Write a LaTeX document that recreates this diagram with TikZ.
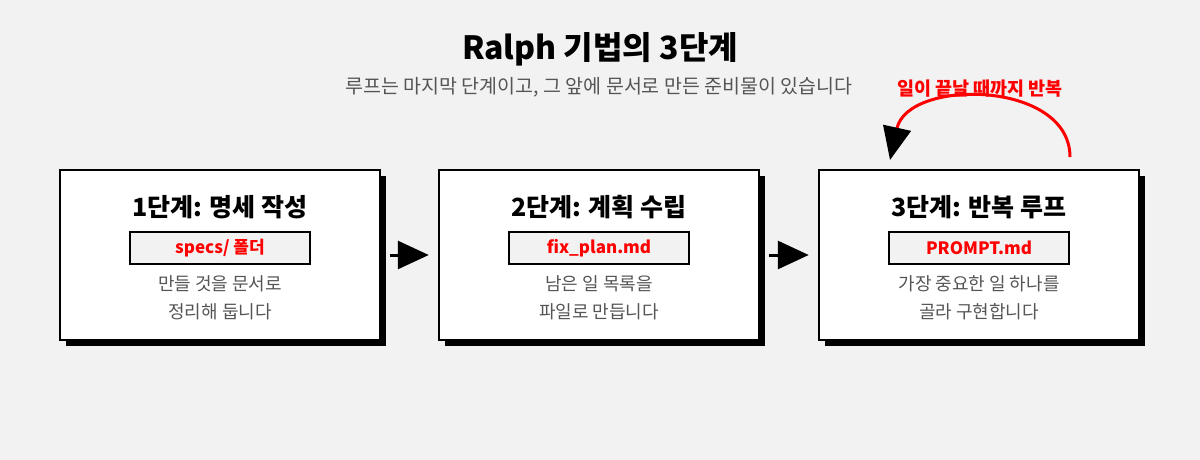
\documentclass[tikz,border=0pt]{standalone}
\usepackage{fontspec}
\setmainfont{Noto Sans CJK KR}
\usetikzlibrary{arrows.meta}
\definecolor{bg}{HTML}{F2F2F2}
\definecolor{txtgray}{HTML}{555555}
\definecolor{myred}{HTML}{FF0000}
\tikzset{
  stage/.style={draw=black, line width=2.5pt, fill=white, minimum width=320pt, minimum height=170pt, inner sep=0pt},
  shadowbox/.style={fill=black, minimum width=320pt, minimum height=170pt, inner sep=0pt, draw=none},
  steptitle/.style={font=\bfseries\fontsize{25}{28}\selectfont, text=black},
  filebox/.style={draw=black, line width=2pt, fill=bg, minimum width=180pt, minimum height=32pt, inner sep=0pt, font=\bfseries\fontsize{17}{20}\selectfont, text=myred},
  desc/.style={font=\fontsize{18}{28}\selectfont, text=txtgray, align=center},
  flow/.style={line width=3pt, -{Triangle[length=31pt,width=28pt]}},
}
\begin{document}
\begin{tikzpicture}[x=1pt,y=-1pt]
\fill[bg] (0,0) rectangle (1200,460);
\useasboundingbox (0,0) rectangle (1200,460);
\node[font=\bfseries\fontsize{32}{36}\selectfont] (title) at (600,49) {Ralph 기법의 3단계};
\node[font=\fontsize{19.5}{22}\selectfont, text=txtgray] (subtitle) at (599,87) {루프는 마지막 단계이고, 그 앞에 문서로 만든 준비물이 있습니다};
% stage 1
\node[shadowbox] (s1) at (226,261) {};
\node[stage] (b1) at (220,255) {};
\node[steptitle] (t1) at (220,207) {1단계: 명세 작성};
\node[filebox] (f1) at (220,248) {specs/ 폴더};
\node[desc] (d1) at (220,298) {만들 것을 문서로\\정리해 둡니다};
% stage 2
\node[shadowbox] (s2) at (605,261) {};
\node[stage] (b2) at (599,255) {};
\node[steptitle] (t2) at (599,207) {2단계: 계획 수립};
\node[filebox] (f2) at (599,248) {fix\_plan.md};
\node[desc] (d2) at (599,298) {남은 일 목록을\\파일로 만듭니다};
% stage 3
\node[shadowbox] (s3) at (985,261) {};
\node[stage] (b3) at (979,255) {};
\node[steptitle] (t3) at (979,207) {3단계: 반복 루프};
\node[filebox] (f3) at (979,248) {PROMPT.md};
\node[desc] (d3) at (979,298) {가장 중요한 일 하나를\\골라 구현합니다};
% arrows
\draw[flow, shorten <=4pt, shorten >=9pt] (s1.east |- b1.east) -- (b2.west);
\draw[flow, shorten <=4pt, shorten >=9pt] (s2.east |- b2.east) -- (b3.west);
% loop
\coordinate (ls) at (1070,157);
\coordinate (le) at (890,160);
\draw[myred, line width=3pt, -{Triangle[black,length=33pt,width=28pt]}] (ls) .. controls (1070,80) and (908,78) .. (le);
\node[font=\bfseries\fontsize{18.5}{22}\selectfont, text=myred] (looplabel) at (980,89) {일이 끝날 때까지 반복};
\end{tikzpicture}
\end{document}
